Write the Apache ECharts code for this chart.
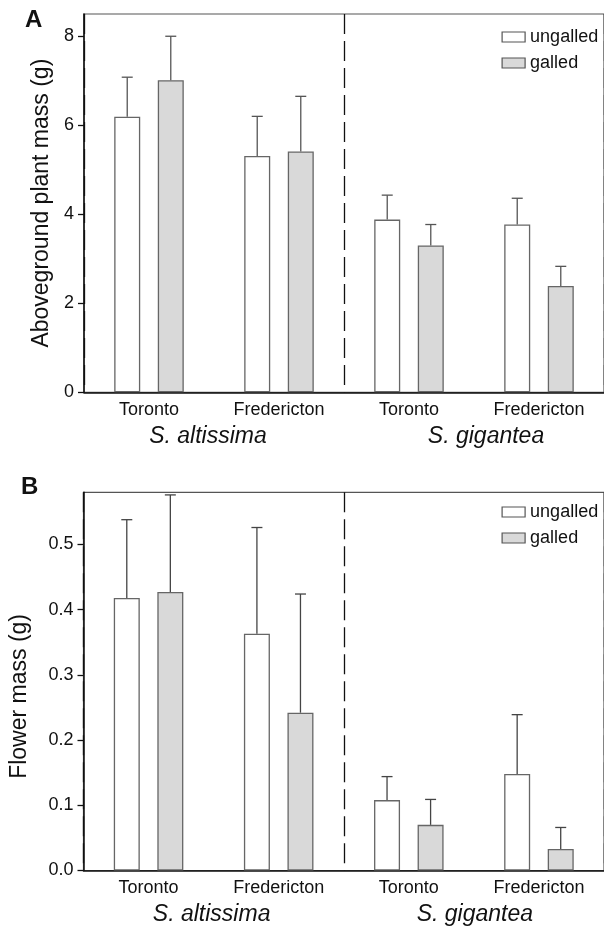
<!DOCTYPE html>
<html><head><meta charset="utf-8">
<script src="https://cdn.jsdelivr.net/npm/echarts@6/dist/echarts.min.js"></script>
<style>html,body{margin:0;padding:0;background:#fff}#c{width:604px;height:932px}</style>
</head><body><div id="c"></div>
<script>
// ---- data ----
const sites = ['Toronto', 'Fredericton', 'Toronto', 'Fredericton'];
const species = ['S. altissima', 'S. gigantea'];
const groupNames = ['ungalled', 'galled'];

const massUngalled    = [6.19, 5.31, 3.88, 3.77];
const massUngalledTop = [7.08, 6.20, 4.43, 4.36];   // upper end of error bar
const massGalled      = [7.01, 5.41, 3.30, 2.39];
const massGalledTop   = [8.00, 6.65, 3.77, 2.83];

const flowerUngalled    = [0.418, 0.363, 0.108, 0.148];
const flowerUngalledTop = [0.538, 0.526, 0.144, 0.239];
const flowerGalled      = [0.427, 0.242, 0.070, 0.033];
const flowerGalledTop   = [0.576, 0.424, 0.109, 0.066];

const massTicks   = [0, 2, 4, 6, 8];
const flowerTicks = [0, 0.1, 0.2, 0.3, 0.4, 0.5];
const speciesCount = species.length; // divider between the two species groups

// ---- style ----
const FONT = 'Liberation Sans, Arial, Helvetica, sans-serif';
const TXT = '#111';
const BAR_W = 26, BAR_GAP = 0.675;
const BAR_OFF = (BAR_W + BAR_W * BAR_GAP) / 2;
const CAP = 5.5;

function barSeries(name, idx, data, fill) {
  return {
    type: 'bar', name, xAxisIndex: idx * 3, yAxisIndex: idx, data,
    barWidth: BAR_W, barGap: (BAR_GAP * 100) + '%',
    itemStyle: { color: fill, borderColor: '#666', borderWidth: 1.3 },
    emphasis: { disabled: true }, silent: true
  };
}
function errSeries(idx, base, tops, sign, color) {
  return {
    type: 'custom', name: 'err' + idx + sign, xAxisIndex: idx * 3, yAxisIndex: idx,
    z: 5, silent: true,
    data: base.map((v, i) => [i, v, tops[i]]),
    encode: { x: 0, y: [1, 2] },
    renderItem: (p, api) => {
      const ci = api.value(0);
      const b = api.coord([ci, api.value(1)]);
      const t = api.coord([ci, api.value(2)]);
      const x = b[0] + sign * BAR_OFF;
      const st = { stroke: color, lineWidth: 1.3 };
      return { type: 'group', children: [
        { type: 'line', shape: { x1: x, y1: b[1], x2: x, y2: t[1] }, style: st },
        { type: 'line', shape: { x1: x - CAP, y1: t[1], x2: x + CAP, y2: t[1] }, style: st }
      ]};
    }
  };
}
function siteAxis(g) {
  return {
    type: 'category', gridIndex: g, data: sites, position: 'bottom',
    axisLine: { show: true, lineStyle: { color: '#111', width: 1.5 } },
    axisTick: { show: false },
    axisLabel: { fontSize: 18, fontFamily: FONT, color: TXT, margin: 9 },
    splitLine: { show: false }
  };
}
function speciesAxis(g, pads) {
  const rich = {};
  pads.forEach((p, i) => {
    rich['s' + i] = { fontSize: 23, fontStyle: 'italic', fontFamily: FONT, color: TXT, padding: p };
  });
  return {
    type: 'category', gridIndex: g, data: species, position: 'bottom',
    axisLine: { show: false }, axisTick: { show: false }, splitLine: { show: false },
    axisLabel: { margin: 33, fontSize: 23, fontStyle: 'italic', fontFamily: FONT, color: TXT,
      formatter: (v, i) => '{s' + i + '|' + v + '}', rich }
  };
}
// hidden value axis spanning the species groups; its middle split line is the dashed divider
function dividerAxis(g) {
  return {
    type: 'value', gridIndex: g, min: 0, max: speciesCount * 2, interval: speciesCount,
    position: 'bottom',
    axisLine: { show: false }, axisTick: { show: false }, axisLabel: { show: false },
    splitLine: { show: true, lineStyle: { color: '#111', width: 1.3, type: [20, 7] } }
  };
}
function valAxis(g, max, interval, ticks, name, gap, fmt, namePad) {
  return {
    type: 'value', gridIndex: g, min: 0, max, interval,
    axisLine: { show: true, lineStyle: { color: '#111', width: 1.5 } },
    axisTick: { show: true, length: 6, customValues: ticks, lineStyle: { color: '#111', width: 1.3 } },
    axisLabel: { customValues: ticks, fontSize: 18, fontFamily: FONT, color: TXT, margin: 10, formatter: fmt },
    splitLine: { show: false },
    name, nameLocation: 'middle', nameGap: gap,
    nameTextStyle: { fontSize: 23, fontFamily: FONT, color: TXT, padding: namePad }
  };
}
function legend(top) {
  return {
    data: groupNames, orient: 'vertical', left: 501.5, top, padding: 0,
    icon: 'rect', itemWidth: 23, itemHeight: 10, itemGap: 8, itemTextGap: 5,
    selectedMode: false,
    textStyle: { fontSize: 18, fontFamily: FONT, color: TXT },
    itemStyle: { borderColor: '#555', borderWidth: 1.2 }
  };
}

const chart = echarts.init(document.getElementById('c'), null, { renderer: 'canvas' });
chart.setOption({
  backgroundColor: '#fff',
  animation: false,
  grid: [
    { left: 84, top: 14, width: 525.5, height: 378.3, show: true, borderColor: '#555', borderWidth: 1.2, backgroundColor: 'transparent' },
    { left: 83.5, top: 492.3, width: 525.5, height: 378.2, show: true, borderColor: '#555', borderWidth: 1.2, backgroundColor: 'transparent' }
  ],
  xAxis: [
    siteAxis(0), speciesAxis(0, [[0, 12, 0, 0], [0, 0, 0, 24]]), dividerAxis(0),
    siteAxis(1), speciesAxis(1, [[0, 4, 0, 0], [0, 0, 0, 2]]), dividerAxis(1)
  ],
  yAxis: [
    valAxis(0, 8.5, 2, massTicks, 'Aboveground plant mass (g)', 31, (v) => String(v), [0, 0, 0, 0]),
    valAxis(1, 0.58, 0.1, flowerTicks, 'Flower mass (g)', 52, (v) => v.toFixed(1), [0, 30, 0, 0])
  ],
  legend: [legend(28), legend(503)],
  graphic: [
    { type: 'text', left: 25, top: 8, style: { text: 'A', fontSize: 24, fontWeight: 'bold', fontFamily: FONT, fill: '#111' } },
    { type: 'text', left: 21, top: 475, style: { text: 'B', fontSize: 24, fontWeight: 'bold', fontFamily: FONT, fill: '#111' } }
  ],
  series: [
    barSeries('ungalled', 0, massUngalled, '#ffffff'),
    barSeries('galled', 0, massGalled, '#d9d9d9'),
    errSeries(0, massUngalled, massUngalledTop, -1, '#555'),
    errSeries(0, massGalled, massGalledTop, 1, '#555'),
    barSeries('ungalled', 1, flowerUngalled, '#ffffff'),
    barSeries('galled', 1, flowerGalled, '#d9d9d9'),
    errSeries(1, flowerUngalled, flowerUngalledTop, -1, '#444'),
    errSeries(1, flowerGalled, flowerGalledTop, 1, '#444')
  ]
});
</script></body></html>
